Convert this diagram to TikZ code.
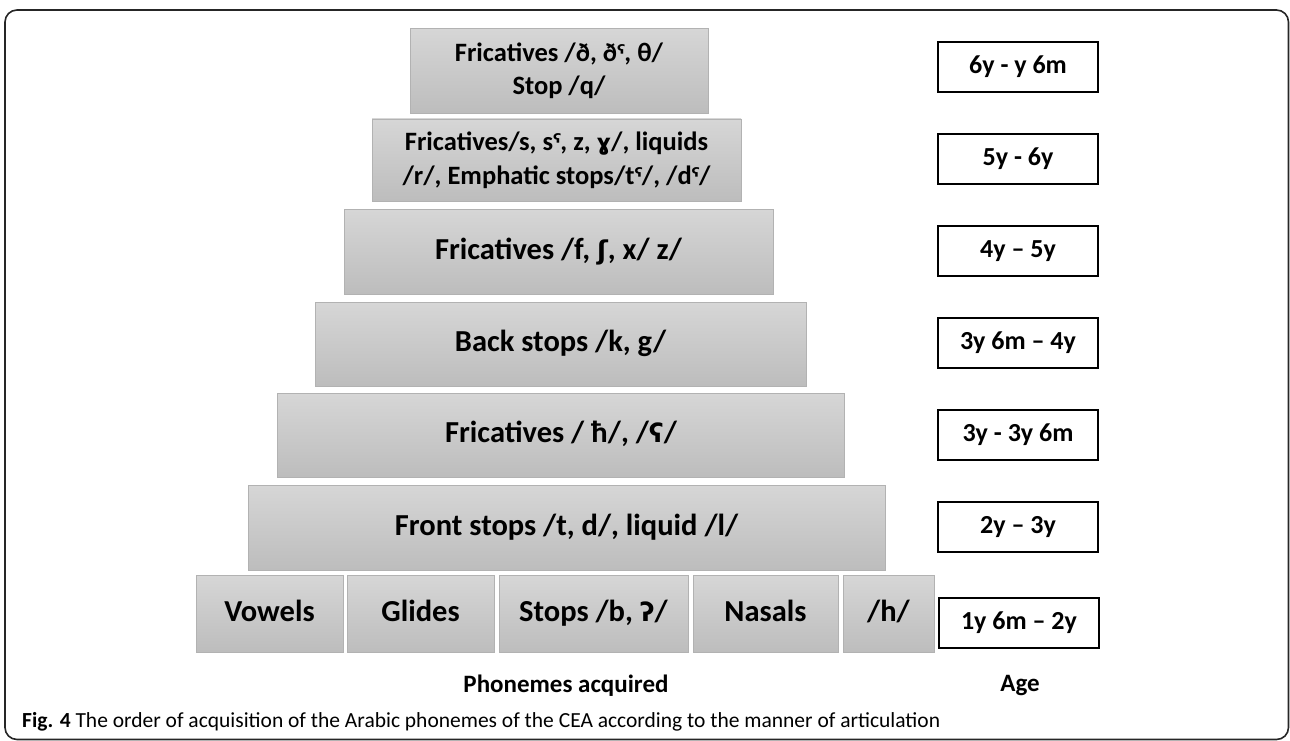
\documentclass[tikz,border=0pt]{standalone}
\usepackage{fontspec}
\setmainfont{Carlito}
\newfontfamily\ipafont[Scale=0.85]{DejaVu Sans}
\newcommand{\ip}[1]{{\ipafont #1}}
\newcommand{\bigf}{\bfseries\fontsize{30.5}{34}\selectfont}
\tikzset{
  ph/.style={draw=black!30, line width=0.8pt, top color=black!16, bottom color=black!26,
    inner sep=0pt, align=center, font=\bigf},
  one/.style={text height=21pt, text depth=6pt},
  agebox/.style={draw=black, line width=1.4pt, fill=white, inner sep=0pt,
    minimum width=160pt, minimum height=50pt, font=\bfseries\fontsize{26}{30}\selectfont,
    text height=18pt, text depth=5pt},
  lbl/.style={font=\bfseries\fontsize{25}{30}\selectfont, inner sep=0pt}
}
\begin{document}
\begin{tikzpicture}[x=1pt,y=-1pt]
\useasboundingbox (0,0) rectangle (1290,741);
\draw[line width=1.6pt, rounded corners=12pt, black!85] (5,10) rectangle (1288.5,739.5);
\node[ph, minimum width=298pt, minimum height=85pt, font=\bfseries\fontsize{26.5}{33}\selectfont] (r7) at (559,71)
  {Fricatives /ð, ð\ip{ˤ}, θ/\\Stop /q/};
\node[ph, minimum width=369pt, minimum height=82pt, font=\bfseries\fontsize{26.5}{34}\selectfont] (r6) at (556.5,160)
  {Fricatives/s, s\ip{ˤ}, z, \ip{ɣ}/, liquids\\/r/, Emphatic stops/t\ip{ˤ}/, /d\ip{ˤ}/};
\node[ph, one, minimum width=429pt, minimum height=85pt] (r5) at (558.5,251.5)
  {Fricatives /f, \ip{ʃ}, x/ z/};
\node[ph, one, minimum width=491pt, minimum height=84pt] (r4) at (560.5,344)
  {Back stops /k, g/};
\node[ph, one, minimum width=567pt, minimum height=84pt] (r3) at (561,435)
  {Fricatives / ħ/, /\ip{ʕ}/};
\node[ph, one, minimum width=637pt, minimum height=85pt] (r2) at (566.5,527.5)
  {Front stops /t, d/, liquid /l/};
\node[ph, one, minimum width=147pt, minimum height=77pt] (v) at (269.5,613.5) {Vowels};
\node[ph, one, minimum width=147pt, minimum height=77pt] (g) at (420.5,614) {Glides};
\node[ph, one, minimum width=189pt, minimum height=77pt] (s) at (593.5,614) {Stops /b, \ip{ʔ}/};
\node[ph, one, minimum width=145pt, minimum height=77pt] (n) at (765.5,614) {Nasals};
\node[ph, one, minimum width=91pt, minimum height=77pt] (h) at (888.5,614) {/h/};
% ages
\node[agebox] (a7) at (1018,67) {6y - y 6m};
\node[agebox] (a6) at (1018,159) {5y - 6y};
\node[agebox] (a5) at (1018,251) {4y – 5y};
\node[agebox] (a4) at (1018,343) {3y 6m – 4y};
\node[agebox] (a3) at (1018,435) {3y - 3y 6m};
\node[agebox] (a2) at (1018,527) {2y – 3y};
\node[agebox] (a1) at (1019,623) {1y 6m – 2y};
\node[lbl] (pa) at (566,686) {Phonemes acquired};
\node[lbl] (ag) at (1020,686) {Age};
\node[anchor=west, inner sep=0pt, font=\fontsize{21.5}{24}\selectfont] (cap) at (22,722)
  {\textbf{Fig. 4} The order of acquisition of the Arabic phonemes of the CEA according to the manner of articulation};
\end{tikzpicture}
\end{document}
